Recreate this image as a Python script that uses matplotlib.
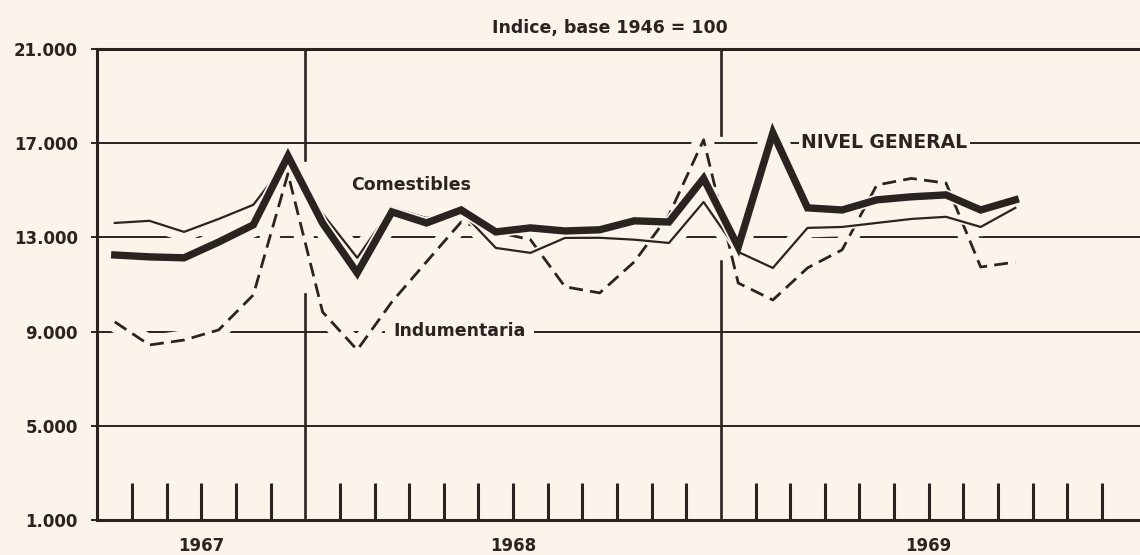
import numpy as np
import pandas as pd
import matplotlib
matplotlib.use("Agg")
import matplotlib.pyplot as plt

# ---------------- data ----------------
months = pd.period_range("1967-07", "1969-09", freq="M")
nivel_general = [12250, 12170, 12130, 12800, 13530, 16450, 13600, 11490, 14080,
                 13610, 14160, 13230, 13400, 13270, 13320, 13700, 13650, 15500,
                 12590, 17430, 14250, 14160, 14590, 14720, 14800, 14160, 14590]
comestibles = [13610, 13700, 13230, 13780, 14380, 16290, 14000, 12130, 14250,
               13820, 14100, 12550, 12340, 12975, 12980, 12900, 12760, 14500,
               12380, 11700, 13400, 13440, 13610, 13780, 13870, 13440, 14250]
indumentaria = [9410, 8430, 8640, 9070, 10555, 15700, 9830, 8220, 10260,
                11960, 13650, 13230, 12900, 10900, 10640, 11960, 13950, 17140,
                11060, 10340, 11700, 12470, 15220, 15500, 15300, 11740, 11950]
years = ["1967", "1968", "1969"]
y_ticks = [1000, 5000, 9000, 13000, 17000, 21000]
y_tick_labels = ["1.000", "5.000", "9.000", "13.000", "17.000", "21.000"]
title = "Indice, base 1946 = 100"

# ---------------- style ----------------
BG = "#fbf4ea"
INK = "#2a2421"
FONT = "DejaVu Sans"
FW = "bold"

start = pd.Period("1967-07", freq="M")
x = np.array([(m - start).n for m in months]) + 0.5
year_span_start = [0, 6, 18]
year_span_end = [6, 18, 30]
year_centers = [(a + b) / 2 for a, b in zip(year_span_start, year_span_end)]

fig = plt.figure(figsize=(11.4, 5.55), dpi=100, facecolor=BG)
ax = fig.add_axes([0.0855, 0.063, 0.9145, 0.849])
ax.set_facecolor(BG)
ax.set_xlim(0, 30.1)
ax.set_ylim(1000, 21000)

# horizontal grid lines
for yv in y_ticks[1:-1]:
    ax.axhline(yv, color=INK, lw=1.4, zorder=1)

# year boundary lines (broken where the curves pass)
def yfrac(v):
    return (v - 1000) / 20000.0
ax.axvline(6, ymin=yfrac(16300), ymax=1, color=INK, lw=1.9, zorder=1)
ax.axvline(6, ymin=0, ymax=yfrac(10600), color=INK, lw=1.9, zorder=1)
ax.axvline(18, ymin=yfrac(17350), ymax=1, color=INK, lw=1.9, zorder=1)
ax.axvline(18, ymin=0, ymax=yfrac(12000), color=INK, lw=1.9, zorder=1)

# large halos that interrupt the grid lines
for vals, lw in [(indumentaria, 2.0), (comestibles, 1.6), (nivel_general, 5.0)]:
    ax.plot(x, vals, color=BG, lw=lw + 12, solid_capstyle="round",
            solid_joinstyle="round", zorder=2)

# series, each with a small halo
ax.plot(x, indumentaria, color=BG, lw=4.5, zorder=3)
ax.plot(x, indumentaria, color=INK, lw=2.0, dashes=(5, 2.6), zorder=3.1)
ax.plot(x, comestibles, color=BG, lw=4.2, zorder=4)
ax.plot(x, comestibles, color=INK, lw=1.6, zorder=4.1)
ax.plot(x, nivel_general, color=BG, lw=7.8, zorder=5)
ax.plot(x, nivel_general, color=INK, lw=5.3, solid_joinstyle="miter", zorder=5.1)

# series labels
ax.text(9.07, 15225, "Comestibles", ha="center", va="center", fontsize=12.5,
        fontfamily=FONT, fontweight=FW, color=INK, zorder=6)
ax.text(10.45, 9030, "Indumentaria", ha="center", va="center", fontsize=12.5,
        fontfamily=FONT, fontweight=FW, color=INK, zorder=6,
        bbox=dict(facecolor=BG, edgecolor="none", pad=6))
ax.text(22.72, 17010, "NIVEL GENERAL", ha="center", va="center", fontsize=13.5,
        fontfamily=FONT, fontweight=FW, color=INK, zorder=6,
        bbox=dict(facecolor=BG, edgecolor="none", pad=2))

# spines
for s in ["left", "bottom", "top"]:
    ax.spines[s].set_color(INK)
    ax.spines[s].set_linewidth(2.2)
ax.spines["right"].set_visible(False)

# y ticks
ax.set_yticks(y_ticks)
ax.set_yticklabels(y_tick_labels, fontfamily=FONT, fontweight=FW,
                   fontsize=12, color=INK)
ax.tick_params(axis="y", direction="out", length=4, width=1.4, color=INK, pad=10)

# x: monthly ticks (inside), year labels as text
month_ticks = [m for m in range(1, 30) if m not in year_span_start]
ax.set_xticks(month_ticks)
ax.set_xticklabels([])
ax.tick_params(axis="x", which="major", direction="in", length=27, width=2.2,
               color=INK)
for xc, lab in zip(year_centers, years):
    ax.text(xc, -0.055, lab, transform=ax.get_xaxis_transform(), ha="center",
            va="center", fontsize=12, fontfamily=FONT, fontweight=FW, color=INK)

fig.text(0.535, 0.9495, title, ha="center", va="center", fontsize=12.5,
         fontfamily=FONT, fontweight=FW, color=INK)

fig.savefig("out.png", dpi=100, facecolor=BG)
